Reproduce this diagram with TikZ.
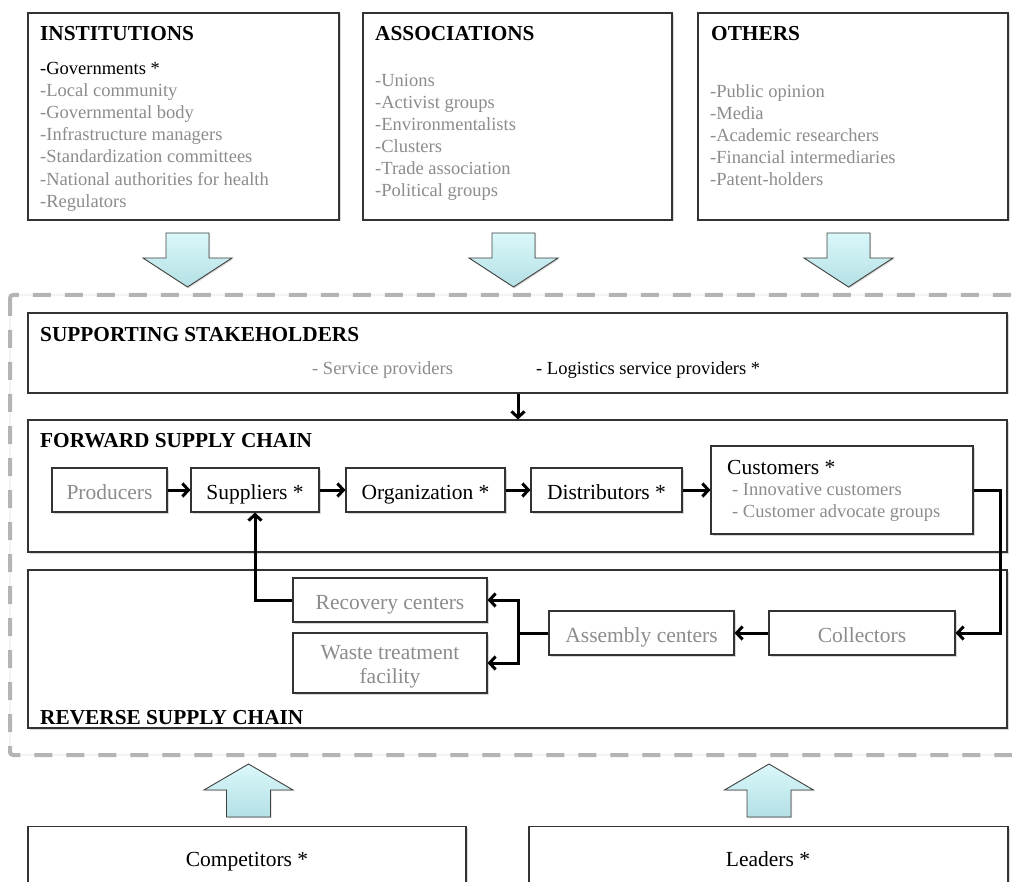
\documentclass[tikz,border=0pt]{standalone}
\usepackage{fontspec}
\setmainfont{Liberation Serif}
\usetikzlibrary{arrows.meta,shadows,calc}
\definecolor{txtgray}{HTML}{8C8C8C}
\definecolor{arrtop}{HTML}{DAF8FA}
\definecolor{arrbot}{HTML}{B4E0E5}
\definecolor{dashgray}{HTML}{B4B4B4}
\definecolor{hairgray}{HTML}{DCDCDC}
\begin{document}
\begin{tikzpicture}[x=1pt,y=-1pt,
  box/.style={draw=black!80, line width=1.1pt, fill=white, inner sep=0pt,
    drop shadow={shadow xshift=1.5pt,shadow yshift=-1.5pt,opacity=0.3}},
  ttl/.style={font=\fontsize{21.3}{24}\selectfont\bfseries, anchor=base west, inner sep=0pt},
  itm/.style={font=\fontsize{18.5}{22}\selectfont, text=txtgray, anchor=base west, inner sep=0pt},
  itmb/.style={itm, text=black},
  lbl/.style={font=\fontsize{21.5}{24}\selectfont, inner sep=0pt},
  chain/.style={box, font=\fontsize{21.5}{24}\selectfont, text height=18pt, text depth=0pt, minimum height=44pt},
  graytxt/.style={text=txtgray},
  conn/.style={line width=3pt, -{Straight Barb[length=6pt,width=13pt]}},
  line/.style={line width=3pt},
  bigarrow/.style={draw=black!75, line width=0.9pt, top color=arrtop, bottom color=arrbot,
    drop shadow={shadow xshift=1.2pt,shadow yshift=-1.2pt,opacity=0.3}},
  bigdown/.pic={\path[bigarrow] (-21.5,0) -- (21.5,0) -- (21.5,25) -- (44.5,25) -- (0,54) -- (-44.5,25) -- (-21.5,25) -- cycle;},
  bigup/.pic={\path[bigarrow] (0,0) -- (44.5,26) -- (22,26) -- (22,53) -- (-22,53) -- (-22,26) -- (-44.5,26) -- cycle;}
]
\useasboundingbox (0,0) rectangle (1012,882);
\clip (0,0) rectangle (1012,882);

% outer dashed frame
\draw[hairgray, line width=0.6pt, rounded corners=3pt] (10,295) rectangle (1030,755);
\draw[dashgray, line width=4pt, dash pattern=on 18pt off 14pt, rounded corners=3pt] (10,295) rectangle (1030,755);

% top boxes
\node[box, minimum width=311pt, minimum height=207pt] (inst) at (183.5,116.5) {};
\node[ttl] at (40,41) {INSTITUTIONS};
\node[itmb] at (40,75) {-Governments *};
\node[itm] at (40,97) {-Local community};
\node[itm] at (40,119) {-Governmental body};
\node[itm] at (40,141) {-Infrastructure managers};
\node[itm] at (40,163) {-Standardization committees};
\node[itm] at (40,186) {-National authorities for health};
\node[itm] at (40,208) {-Regulators};

\node[box, minimum width=309pt, minimum height=207pt] (assoc) at (517.5,116.5) {};
\node[ttl] at (375,41) {ASSOCIATIONS};
\node[itm] at (375,87) {-Unions};
\node[itm] at (375,109) {-Activist groups};
\node[itm] at (375,131) {-Environmentalists};
\node[itm] at (375,153) {-Clusters};
\node[itm] at (375,175) {-Trade association};
\node[itm] at (375,197) {-Political groups};

\node[box, minimum width=310pt, minimum height=207pt] (oth) at (853,116.5) {};
\node[ttl] at (711,41) {OTHERS};
\node[itm] at (710,98) {-Public opinion};
\node[itm] at (710,120) {-Media};
\node[itm] at (710,142) {-Academic researchers};
\node[itm] at (710,164) {-Financial intermediaries};
\node[itm] at (710,186) {-Patent-holders};

% big down arrows
\pic at (187.5,233) {bigdown};
\pic at (513.5,233) {bigdown};
\pic at (848.5,233) {bigdown};

% supporting stakeholders
\node[box, minimum width=979pt, minimum height=80pt] (sup) at (517.5,353) {};
\node[ttl] at (40,342) {SUPPORTING STAKEHOLDERS};
\node[itm] at (312,375) {- Service providers};
\node[itmb] at (536,375) {- Logistics service providers *};

% forward supply chain
\node[box, minimum width=979pt, minimum height=132pt] (fwd) at (517.5,486) {};
\node[ttl] at (40,447) {FORWARD SUPPLY CHAIN};

% reverse supply chain
\node[box, minimum width=979pt, minimum height=158pt] (rev) at (517.5,649) {};
\node[ttl] at (40,724) {REVERSE SUPPLY CHAIN};

\coordinate (sx) at (518,0);
\draw[conn] (sup.south -| sx) -- (fwd.north -| sx);

% forward chain nodes
\node[chain, graytxt, minimum width=115pt] (prod) at (109.5,490) {Producers};
\node[chain, minimum width=128pt] (supp) at (255,490) {Suppliers *};
\node[chain, minimum width=159pt] (org) at (425.5,490) {Organization *};
\node[chain, minimum width=151pt] (dist) at (606.5,490) {Distributors *};
\node[box, minimum width=262pt, minimum height=88pt] (cust) at (842,490) {};
\node[lbl, anchor=base west] at (727,474) {Customers *};
\node[itm] at (732,495) {- Innovative customers};
\node[itm] at (732,517) {- Customer advocate groups};

% reverse chain nodes
\node[chain, graytxt, minimum width=194pt] (recov) at (390,600) {Recovery centers};
\node[box, minimum width=194pt, minimum height=60pt] (waste) at (390,663) {};
\node[lbl, graytxt, anchor=base] at (390,659) {Waste treatment};
\node[lbl, graytxt, anchor=base] at (390,683) {facility};
\node[chain, graytxt, minimum width=185pt] (assem) at (641.5,633) {Assembly centers};
\node[chain, graytxt, minimum width=186pt] (coll) at (862,633) {Collectors};

% connectors
\draw[conn] (prod.east) -- (supp.west);
\draw[conn] (supp.east) -- (org.west);
\draw[conn] (org.east) -- (dist.west);
\draw[conn] (dist.east) -- (cust.west);
\coordinate (cr) at (1000,0);
\draw[conn] (cust.east) -- (cust.east -| cr) |- (coll.east);
\draw[conn] (coll.west) -- (assem.east);
\coordinate (jn) at (518,633);
\draw[line] (assem.west) -- (jn);
\draw[conn] (jn) |- (recov.east);
\draw[conn] (jn) |- (waste.east);
\draw[conn] (recov.west) -| (supp.south);

% big up arrows
\pic at (248.5,764) {bigup};
\pic at (769,764) {bigup};

% bottom boxes
\node[box, minimum width=438pt, minimum height=120pt, anchor=north] (comp) at (247,826) {};
\node[lbl, anchor=base] at (247,866) {Competitors *};
\node[box, minimum width=479pt, minimum height=120pt, anchor=north] (lead) at (768.5,826) {};
\node[lbl, anchor=base] at (768,866) {Leaders *};
\end{tikzpicture}
\end{document}
